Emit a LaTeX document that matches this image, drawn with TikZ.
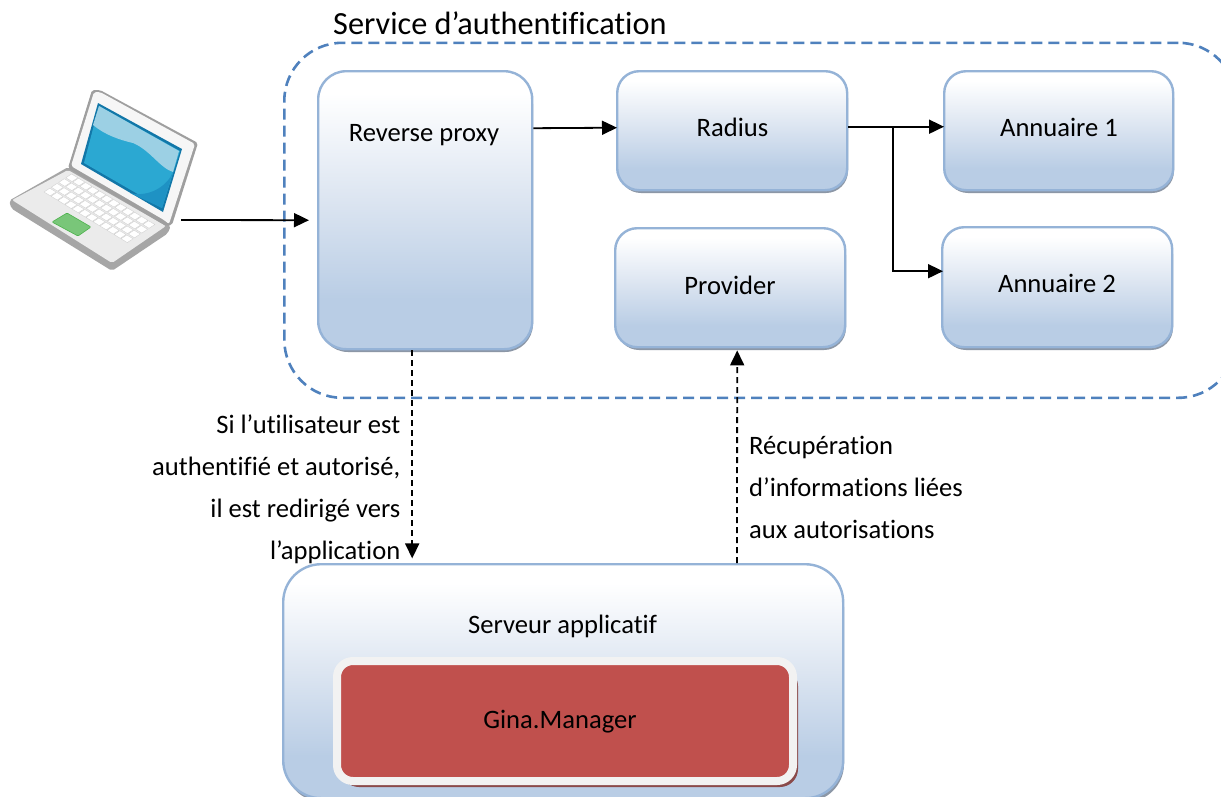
\documentclass[tikz,border=0pt]{standalone}
\usepackage{fontspec}
\setmainfont[Ligatures=NoCommon]{Carlito}
\usetikzlibrary{arrows.meta,calc,positioning,patterns}
\definecolor{boxedge}{HTML}{95B3D7}
\definecolor{dashblue}{HTML}{4F81BD}
\definecolor{hatch}{HTML}{8C97A6}
\definecolor{ginared}{HTML}{C0504D}
\definecolor{ginaedge}{HTML}{F2F2F2}
\definecolor{ginashadow}{HTML}{8A4A4A}
\definecolor{boxlow}{HTML}{B9CDE5}
\definecolor{boxmid}{HTML}{DCE5F1}
\definecolor{scrdark}{HTML}{1277A8}
\definecolor{scrmid}{HTML}{2BA8D2}
\definecolor{scrlow}{HTML}{1E92C4}
\definecolor{scrhigh}{HTML}{9CD0E4}
\pgfdeclareverticalshading{boxgrad}{100bp}{
  color(0bp)=(boxlow);
  color(34bp)=(boxlow);
  color(52bp)=(boxmid);
  color(71bp)=(white);
  color(100bp)=(white)}
\tikzset{
  x=1pt,y=-1pt,
  box/.style={draw=boxedge,line width=2.4pt,rounded corners=#1,shading=boxgrad,
     inner sep=0pt,anchor=north west},
  box/.default=22pt,
  lbl/.style={font=\fontsize{26.6}{42}\selectfont,text=black,inner sep=0pt},
  flow/.style={draw=black,line width=1.8pt,-{Triangle[length=15pt,width=14pt]}},
  flowd/.style={flow,dash pattern=on 6pt off 4pt},
}
\newcommand{\shadowbox}[5]{% x0,y0,x1,y1,radius
  \fill[hatch,rounded corners=#5] (#1+3,#2+6) rectangle (#3+2,#4+4);
}
\begin{document}
\begin{tikzpicture}
\useasboundingbox (0,0) rectangle (1221,796);
\clip (0,0) rectangle (1221,796);
\fill[white] (0,0) rectangle (1221,796);

% container
\node[draw=dashblue,line width=2.6pt,dash pattern=on 11pt off 6pt,rounded corners=58pt,
  minimum width=952pt,minimum height=355pt,inner sep=0pt,anchor=north west] (svc) at (283,41.500) {};
\node[lbl,font=\fontsize{32.3}{38}\selectfont,anchor=base west] (svct) at (333,34) {Service d’authentification};

% shadows
\shadowbox{317}{70}{531}{348}{28pt}
\shadowbox{616}{70}{846}{189}{22pt}
\shadowbox{943}{70}{1172}{189}{22pt}
\shadowbox{614}{227}{844}{346}{22pt}
\shadowbox{941}{226}{1171}{346}{22pt}
\shadowbox{282}{563}{842}{798}{38pt}

% boxes
\node[box=28pt,minimum width=214pt,minimum height=278pt] (rp) at (317,70) {};
\node[box,minimum width=230pt,minimum height=119pt] (radius) at (616,70) {};
\node[box,minimum width=229pt,minimum height=119pt] (ann1) at (943,70) {};
\node[box,minimum width=230pt,minimum height=119pt] (prov) at (614,227) {};
\node[box,minimum width=230pt,minimum height=120pt] (ann2) at (941,226) {};
\node[box=38pt,minimum width=560pt,minimum height=234pt] (srv) at (282,563) {};

% Gina
\fill[ginashadow,rounded corners=18pt] (341,668) rectangle (798,787);
\node[fill=ginared,draw=ginaedge,line width=8pt,rounded corners=16pt,minimum width=456pt,
  minimum height=120pt,inner sep=0pt,anchor=north west] (gina) at (333,657) {};

% box labels
\node[lbl] (trp) at (424,135) {Reverse proxy};
\node[lbl] (trad) at (732.500,127) {Radius};
\node[lbl] (tan1) at (1059,127) {Annuaire 1};
\node[lbl] (tprov) at (730,285) {Provider};
\node[lbl] (tan2) at (1057,283) {Annuaire 2};
\node[lbl] (tsrv) at (562.500,626) {Serveur applicatif};
\node[lbl] (tgina) at (560,722) {Gina.Manager};

% laptop
\begin{scope}[line join=round]
  \coordinate (laptop) at (112,270);
  % base
  \fill[gray!70!white,draw=gray!70!white,line width=1.5pt,rounded corners=2pt]
     (10,201) -- (68,168) -- (170,226) -- (167,233) -- (112,270) -- (12,208) -- cycle;
  \fill[gray!16!white,rounded corners=2pt] (12,200) -- (68,170) -- (166,226) -- (112,263) -- cycle;
  % lid
  \fill[gray!75!white,rounded corners=2pt] (92,90) -- (100,90) -- (198,143) -- (172,225) -- (166,226) -- (68,168) -- cycle;
  \fill[gray!7!white,rounded corners=2pt] (94,92) -- (100,92) -- (195,144) -- (169,224) -- (164,220) -- (71,166) -- cycle;
  % screen
  \fill[scrdark] (98,103) -- (182,149) -- (163,212) -- (81,164) -- cycle;
  \fill[scrmid] (99,106) -- (180,151) -- (162,208) -- (84,163) -- cycle;
  \fill[scrlow] (162,208) -- (173,172)
     .. controls (168,185) and (150,198) .. (130,193) -- cycle;
  \fill[scrhigh] (99,106) -- (179,151) -- (173,172)
     .. controls (160,168) and (150,150) .. (133,143)
     .. controls (120,140) and (105,135) .. (93,125) -- cycle;
  % keyboard
  \foreach \i in {0,...,11}{
    \foreach \j in {0,...,3}{
      \pgfmathsetmacro{\u}{\i/12}
      \pgfmathsetmacro{\v}{\j/4}
      \fill[white,draw=gray!35!white,line width=.4pt]
        ({43+\u*84+\v*29+1},{192+\u*51-\v*19})
        -- ({43+(\u+.075)*84+\v*29+1},{192+(\u+.075)*51-\v*19})
        -- ({43+(\u+.075)*84+(\v+.2)*29+1},{192+(\u+.075)*51-(\v+.2)*19})
        -- ({43+\u*84+(\v+.2)*29+1},{192+\u*51-(\v+.2)*19}) -- cycle;
    }
  }
  % trackpad
  \fill[green!40!gray!75!white,draw=gray!60!green,line width=.6pt,rounded corners=1pt]
     (67,213) -- (91,227) -- (78,236) -- (52,222) -- cycle;
\end{scope}
\coordinate (lapout) at (181,220);

% connectors
\draw[flow] (lapout) -- ([yshift=-10pt]$(rp.west)+(-8,0)$);
\draw[flow] ([yshift=82pt]rp.east) -- ([yshift=3pt]$(radius.west)+(1,0)$);
\draw[flow] ([yshift=4pt]radius.east) -- ([yshift=4pt]$(ann1.west)+(1,0)$);
\coordinate (branch) at (893,126);
\draw[flow] (branch) |- ([yshift=16pt]$(ann2.west)+(2,0)$);
\draw[flowd] ($(rp.south)+(-13,0)$) -- ($(rp.south)+(-13,208)$);
\draw[flowd] ($(srv.north west)+(455,0)$) -- ($(prov.south)+(7,2)$);

% connector labels
\node[lbl,align=right,anchor=north east] (tl) at (400.500,415) {Si l’utilisateur est\\authentifié et autorisé,\\il est redirigé vers\\l’application};
\node[lbl,align=left,anchor=north west] (tr) at (749,436) {Récupération\\d’informations liées\\aux autorisations};
\end{tikzpicture}
\end{document}
